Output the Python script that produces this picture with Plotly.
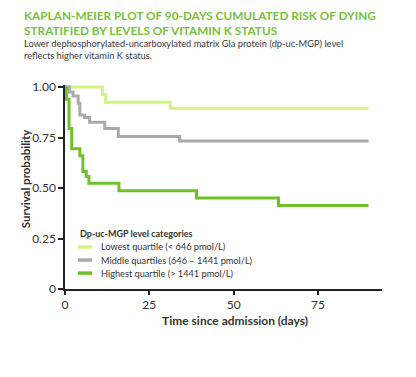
import plotly.graph_objects as go

# Data
low_t = [0, 11.1, 12.1, 31.2, 90]
low_s = [1.0, 0.963, 0.925, 0.895, 0.895]

mid_t = [0, 1.3, 2.4, 3.9, 4.4, 5.8, 7.3, 11.8, 15.8, 34.0, 90]
mid_s = [1.0, 0.975, 0.955, 0.92, 0.862, 0.849, 0.825, 0.795, 0.755, 0.733, 0.733]

high_t = [0, 0.4, 1.2, 2.0, 4.4, 5.3, 6.3, 7.1, 16.0, 39.0, 63.3, 90]
high_s = [1.0, 0.94, 0.795, 0.694, 0.66, 0.582, 0.557, 0.524, 0.486, 0.45, 0.413, 0.413]

names = ["Lowest quartile (< 646 pmol/L)",
         "Middle quartiles (646 – 1441 pmol/L)",
         "Highest quartile (> 1441 pmol/L)"]
colors = ["#d4f27e", "#aaaaaa", "#70c02c"]

x_ticks = [0, 25, 50, 75]
y_ticks = [0, 0.25, 0.5, 0.75, 1.0]
y_ticktext = ["0", "0.25", "0.50", "0.75", "1.00"]

FONT = "Lato"
TXT = "#333333"

fig = go.Figure()
series = [(low_t, low_s), (mid_t, mid_s), (high_t, high_s)]
for (t, s), c, n in zip(series, colors, names):
    fig.add_trace(go.Scatter(x=t, y=s, mode="lines", name=n,
                             line=dict(color=c, width=3, shape="hv"),
                             showlegend=False, hoverinfo="skip"))

# page body has an 8px default margin -> figure sized/placed to compensate
fig.update_layout(
    width=400, height=361,
    margin=dict(l=57, r=26, t=77, b=80, autoexpand=False),
    paper_bgcolor="white", plot_bgcolor="white",
    font=dict(family=FONT, color=TXT, size=12),
    showlegend=False,
    xaxis=dict(range=[0, 94], tickvals=x_ticks, showgrid=False, zeroline=False,
               showline=True, linecolor="#222", linewidth=1.5, automargin=False,
               ticks="outside", ticklen=4, tickcolor="#222", tickwidth=1.5,
               tickfont=dict(size=12, color=TXT)),
    yaxis=dict(range=[0, 1.01], tickvals=y_ticks, ticktext=y_ticktext, showgrid=False, zeroline=False,
               showline=True, linecolor="#222", linewidth=1.5, automargin=False,
               ticks="outside", ticklen=5, tickcolor="#222", tickwidth=1.5,
               tickfont=dict(size=12, color=TXT)),
)

# Axis titles
fig.add_annotation(xref="paper", yref="paper", x=0.536, y=-0.155, xanchor="center", yanchor="middle",
                   showarrow=False,
                   text="<b>Time since admission (days)</b>", font=dict(size=12, color=TXT, family=FONT))
fig.add_annotation(xref="paper", yref="paper", x=-0.126, y=0.543, xanchor="center", yanchor="middle",
                   showarrow=False, textangle=-90,
                   text="<b>Survival probability</b>", font=dict(size=11.5, color=TXT, family=FONT))

# Title and subtitle
fig.add_annotation(xref="paper", yref="paper", x=-0.136, y=1.0, yshift=45,
                   xanchor="left", yanchor="bottom", align="left", showarrow=False,
                   text="<b>KAPLAN-MEIER PLOT OF 90-DAYS CUMULATED RISK OF DYING<br>STRATIFIED BY LEVELS OF VITAMIN K STATUS</b>",
                   font=dict(size=11.8, color="#78c040", family=FONT))
fig.add_annotation(xref="paper", yref="paper", x=-0.136, y=1.0, yshift=22,
                   xanchor="left", yanchor="bottom", align="left", showarrow=False,
                   text="Lower dephosphorylated-uncarboxylated matrix Gla protein (dp-uc-MGP) level<br>reflects higher vitamin K status.",
                   font=dict(size=9.3, color="#3a3a3a", family=FONT))

# Legend (built from names/colors)
fig.add_annotation(xref="paper", yref="paper", x=0.041, y=0.2745, xanchor="left", yanchor="middle",
                   showarrow=False,
                   text="<b>Dp-uc-MGP level categories</b>", font=dict(size=9, color=TXT, family=FONT))
leg_y = [0.206, 0.142, 0.078]
for n, c, ly in zip(names, colors, leg_y):
    fig.add_shape(type="line", xref="paper", yref="paper", x0=0.041, x1=0.0852, y0=ly, y1=ly,
                  line=dict(color=c, width=3.5))
    fig.add_annotation(xref="paper", yref="paper", x=0.107, y=ly, xanchor="left", yanchor="middle",
                       showarrow=False,
                       text=n, font=dict(size=9.2, color=TXT, family=FONT))

fig.write_html("out.html")
